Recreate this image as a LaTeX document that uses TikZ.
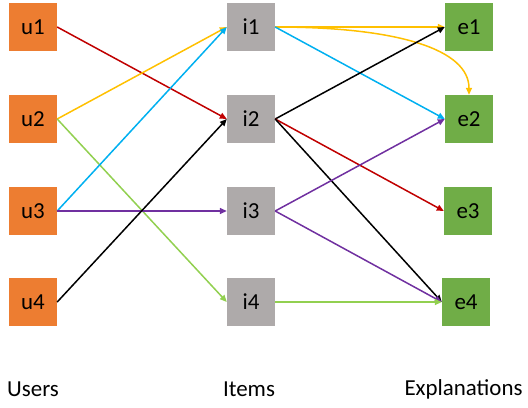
\documentclass[tikz,border=0pt]{standalone}
\usepackage{fontspec}
\setmainfont{Carlito}
\usepackage{xcolor}
\usetikzlibrary{positioning, arrows.meta}

\definecolor{userorange}{HTML}{ED7D31}
\definecolor{itemgray}{HTML}{AEAAAA}
\definecolor{explgreen}{HTML}{70AD47}
\definecolor{linkred}{HTML}{C00000}
\definecolor{linkyellow}{HTML}{FFC000}
\definecolor{linkblue}{HTML}{00B0F0}
\definecolor{linkgreen}{HTML}{92D050}
\definecolor{linkpurple}{HTML}{7030A0}

\begin{document}
\begin{tikzpicture}[x=1bp, y=-1bp, every node/.style={font=\fontsize{23}{26}\selectfont},
    usernode/.style={rectangle, draw=none, fill=userorange, minimum size=48bp, inner sep=0pt},
    itemnode/.style={rectangle, draw=none, fill=itemgray, minimum size=48bp, inner sep=0pt},
    explnode/.style={rectangle, draw=none, fill=explgreen, minimum size=48bp, inner sep=0pt},
    link/.style={-{Triangle[length=7bp, width=6bp]}, line width=1.5bp}]

    \useasboundingbox (0,0) rectangle (528,407);

    % Nodes
    \node[usernode] (u1) at (33,27) {u1};
    \node[usernode] (u2) at (33,119) {u2};
    \node[usernode] (u3) at (33,211) {u3};
    \node[usernode] (u4) at (33,302) {u4};

    \node[itemnode] (i1) at (251,27) {i1};
    \node[itemnode] (i2) at (251,119) {i2};
    \node[itemnode] (i3) at (251,211) {i3};
    \node[itemnode] (i4) at (251,302) {i4};

    \node[explnode] (e1) at (469,27) {e1};
    \node[explnode] (e2) at (469,119) {e2};
    \node[explnode] (e3) at (468,211) {e3};
    \node[explnode] (e4) at (466,302) {e4};

    \node (users) at (33,389) {Users};
    \node (items) at (249,389) {Items};
    \node[anchor=west] (expls) at (401,389) {Explanations};

    % Links users -> items
    \draw[link, linkred] (u1.east) -- (i2.west);
    \draw[link, linkyellow] (u2.east) -- (i1.west);
    \draw[link, linkgreen] (u2.east) -- (i4.west);
    \draw[link, linkblue] (u3.east) -- (i1.west);
    \draw[link, linkpurple] (u3.east) -- (i3.west);
    \draw[link, black] (u4.east) -- (i2.west);

    % Links items -> explanations
    \draw[link, linkyellow] (i1.east) -- (e1.west);
    \draw[link, linkyellow] (i1.east) .. controls (400,27) and (469,50) .. (e2.north);
    \draw[link, linkblue] (i1.east) -- (e2.west);
    \draw[link, black] (i2.east) -- (e1.west);
    \draw[link, linkred] (i2.east) -- (e3.west);
    \draw[link, black] (i2.east) -- (e4.west);
    \draw[link, linkpurple] (i3.east) -- (e2.west);
    \draw[link, linkpurple] (i3.east) -- (e4.west);
    \draw[link, linkgreen] (i4.east) -- (e4.west);

\end{tikzpicture}
\end{document}
